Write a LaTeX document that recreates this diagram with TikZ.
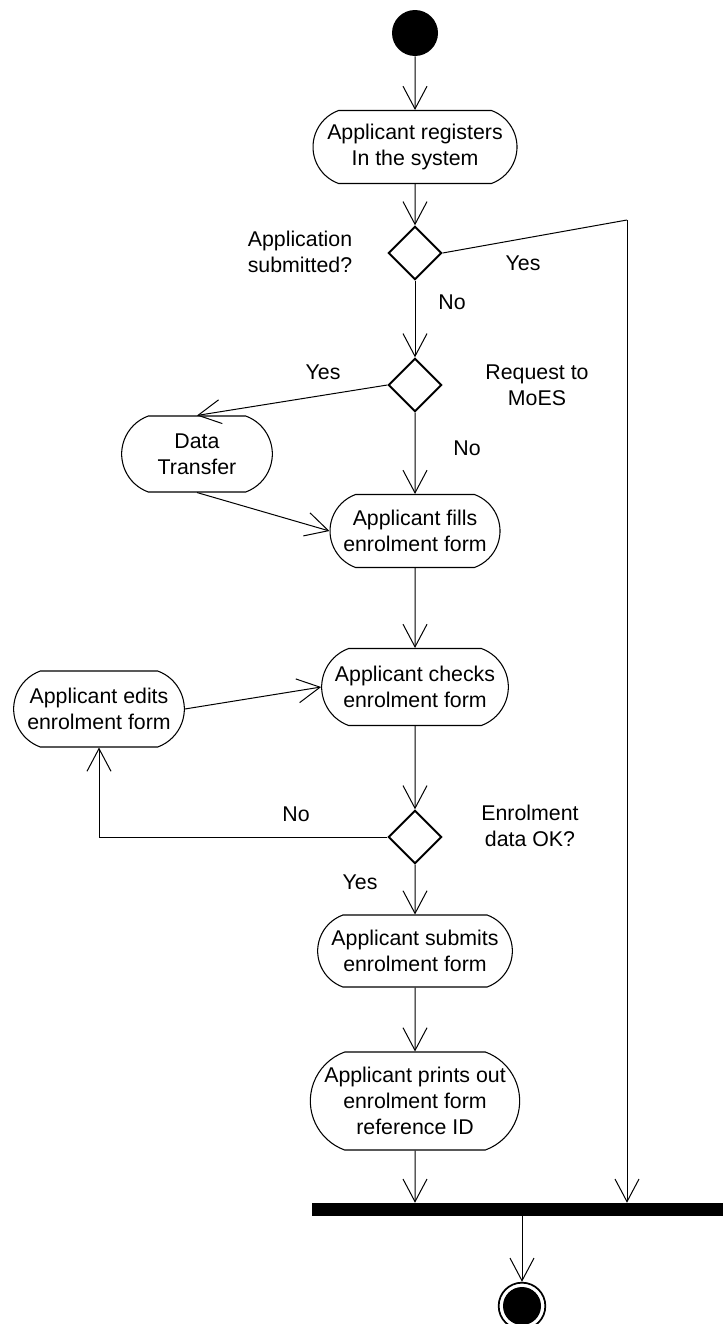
\documentclass[tikz,border=0pt]{standalone}
\usepackage{fontspec}
\setmainfont{Liberation Sans}
\usetikzlibrary{shapes.misc,shapes.geometric,arrows.meta}

\tikzset{
  lbl/.style={font=\fontsize{16}{19.5}\selectfont, align=center, inner sep=0pt},
  act/.style={rounded rectangle, rounded rectangle arc length=140, draw, fill=white,
    line width=0.8pt, inner sep=0pt, align=center,
    font=\fontsize{16}{19.5}\selectfont},
  decide/.style={diamond, draw, fill=white, line width=1.5pt, aspect=1,
    minimum width=40pt, minimum height=40pt, inner sep=0pt},
  flow/.style={line width=0.75pt, -{Straight Barb[length=17pt,width=18pt,line width=0.75pt]}},
  plain/.style={line width=0.75pt}
}

\begin{document}
\begin{tikzpicture}[x=0.75pt,y=-0.75pt]
\clip (0,0) rectangle (723,1324);

% activity nodes
\node[circle, fill=black, minimum size=34.5pt, inner sep=0pt] (start) at (415,33) {};
\node[act, minimum width=153pt, minimum height=54.75pt] (reg) at (415,147) {Applicant registers\\In the system};
\node[decide] (d1) at (415,253) {};
\node[decide] (d2) at (415,385) {};
\node[act, minimum width=113pt, minimum height=57pt] (dt) at (197,454) {Data\\Transfer};
\node[act, minimum width=127.5pt, minimum height=54.75pt] (fills) at (415,531) {Applicant fills\\enrolment form};
\node[act, minimum width=140pt, minimum height=57.75pt] (checks) at (415,687) {Applicant checks\\enrolment form};
\node[act, minimum width=128pt, minimum height=57pt] (edits) at (99,709) {Applicant edits\\enrolment form};
\node[decide] (d3) at (415,837) {};
\node[act, minimum width=146pt, minimum height=54pt] (submits) at (415,951) {Applicant submits\\enrolment form};
\node[act, minimum width=157pt, minimum height=73.5pt] (prints) at (415,1101) {Applicant prints out\\enrolment form\\reference ID};
\node[rectangle, fill=black, minimum width=308.25pt, minimum height=9.75pt, inner sep=0pt] (bar) at (517.5,1209.5) {};
\node[circle, draw, line width=1.3pt, minimum size=35pt, inner sep=0pt] (final) at (522,1306) {};
\fill (final.center) circle[radius=14.25pt];

% labels
\node[lbl] (q1) at (300,252) {Application\\submitted?};
\node[lbl] (q2) at (537,385) {Request to\\MoES};
\node[lbl] (q3) at (530,826) {Enrolment\\data OK?};
\node[lbl] (y1) at (523,263) {Yes};
\node[lbl] (n1) at (452,302) {No};
\node[lbl] (y2) at (323,372) {Yes};
\node[lbl] (n2) at (467,448) {No};
\node[lbl] (n3) at (296,814) {No};
\node[lbl] (y3) at (360,882) {Yes};

% connectors
\coordinate (corner) at (627,220);
\draw[flow] (start) -- (reg);
\draw[flow] (reg) -- (d1);
\draw[plain] (d1.east) -- (corner);
\draw[flow] (corner) -- (corner |- bar.north);
\draw[flow] (d1) -- (d2);
\draw[flow] (d2.west) -- (dt.north);
\draw[flow] (d2) -- (fills);
\draw[flow] (dt.south) -- (fills.west);
\draw[flow] (fills) -- (checks);
\draw[flow] (edits.east) -- (checks.west);
\draw[flow] (checks) -- (d3);
\draw[flow] (d3.west) -| (edits.south);
\draw[flow] (d3) -- (submits);
\draw[flow] (submits) -- (prints);
\draw[flow] (prints) -- (prints |- bar.north);
\draw[flow] (final |- bar.south) -- (final.north);
\end{tikzpicture}
\end{document}
